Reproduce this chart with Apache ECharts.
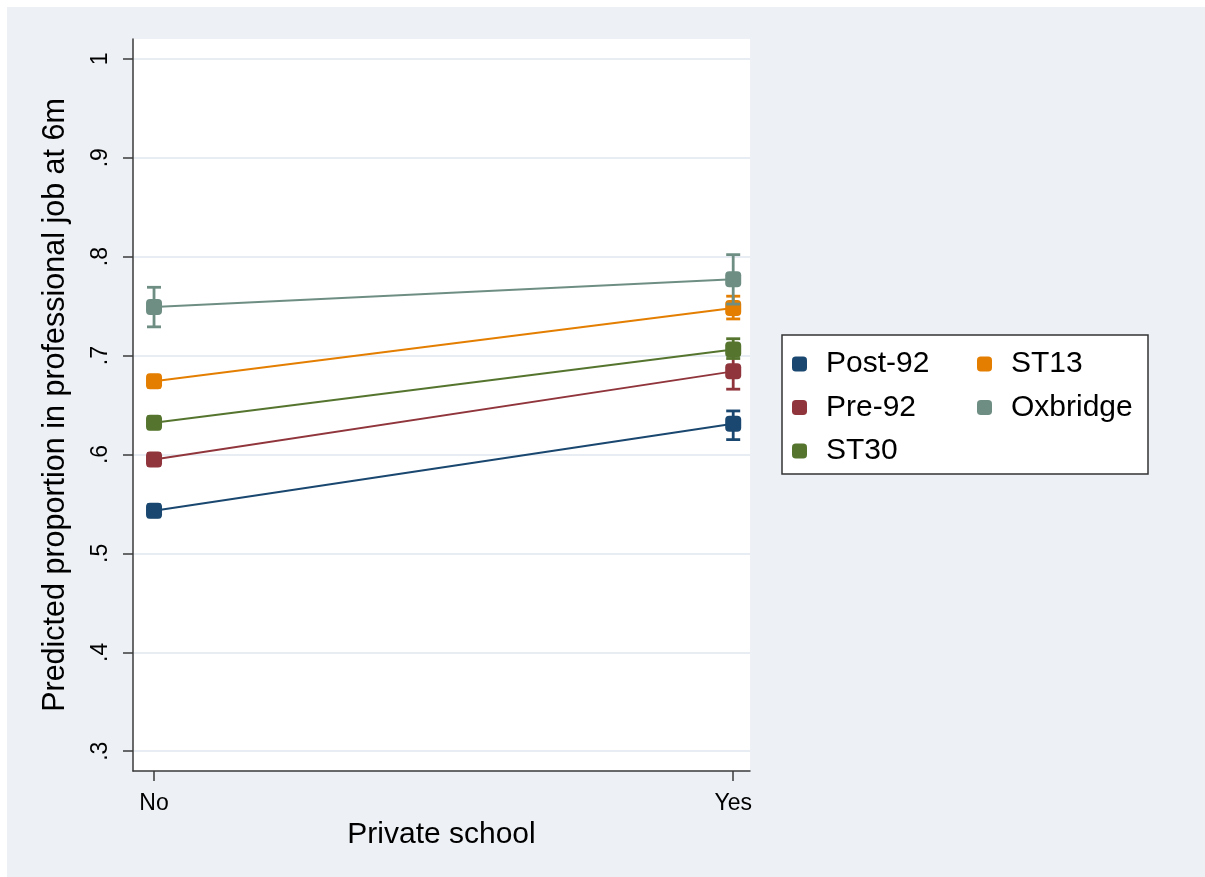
<!DOCTYPE html>
<html>
<head>
<meta charset="utf-8">
<title>Predicted proportion in professional job at 6m</title>
<script src="https://cdn.jsdelivr.net/npm/echarts@6/dist/echarts.min.js"></script>
<style>
  html, body { margin: 0; padding: 0; background: #ffffff; }
  #chart { position: absolute; left: 7px; top: 7px; width: 1198px; height: 870px; }
</style>
</head>
<body>
<div id="chart"></div>
<script>
// Categories on the x axis
const categories = ['No', 'Yes'];

// Y axis ticks
const yTickValues = [0.3, 0.4, 0.5, 0.6, 0.7, 0.8, 0.9, 1.0];
const yTickLabels = ['.3', '.4', '.5', '.6', '.7', '.8', '.9', '1'];

// Predicted proportions (No, Yes) with 95% confidence bounds
const post92   = [0.543, 0.631];
const post92Lo = [0.537, 0.615];
const post92Hi = [0.549, 0.644];

const pre92    = [0.595, 0.684];
const pre92Lo  = [0.589, 0.666];
const pre92Hi  = [0.601, 0.702];

const st30     = [0.632, 0.706];
const st30Lo   = [0.626, 0.697];
const st30Hi   = [0.638, 0.717];

const st13     = [0.674, 0.748];
const st13Lo   = [0.668, 0.737];
const st13Hi   = [0.680, 0.760];

const oxbridge   = [0.749, 0.777];
const oxbridgeLo = [0.729, 0.752];
const oxbridgeHi = [0.769, 0.802];

const groupNames  = ['Post-92', 'Pre-92', 'ST30', 'ST13', 'Oxbridge'];
const groupColors = ['#1A476F', '#90353B', '#55752F', '#E37E00', '#6E8E84'];
const groupValues = [post92, pre92, st30, st13, oxbridge];
const groupLo     = [post92Lo, pre92Lo, st30Lo, st13Lo, oxbridgeLo];
const groupHi     = [post92Hi, pre92Hi, st30Hi, st13Hi, oxbridgeHi];

const FONT = '"Liberation Sans", Arial, Helvetica, sans-serif';

function errorBarRenderer(color) {
  return function (params, api) {
    const x = api.value(0);
    const top = api.coord([x, api.value(2)]);
    const bot = api.coord([x, api.value(1)]);
    const half = 7;
    const style = { stroke: color, lineWidth: 2.8 };
    return {
      type: 'group',
      children: [
        { type: 'line', shape: { x1: top[0], y1: top[1], x2: bot[0], y2: bot[1] }, style },
        { type: 'line', shape: { x1: top[0] - half, y1: top[1], x2: top[0] + half, y2: top[1] }, style },
        { type: 'line', shape: { x1: bot[0] - half, y1: bot[1], x2: bot[0] + half, y2: bot[1] }, style }
      ]
    };
  };
}

const series = [];
groupNames.forEach(function (name, i) {
  const color = groupColors[i];
  series.push({
    name: name,
    type: 'custom',
    renderItem: errorBarRenderer(color),
    itemStyle: { color: color },
    encode: { x: 0, y: [1, 2] },
    data: categories.map(function (c, j) { return [j, groupLo[i][j], groupHi[i][j]]; }),
    z: 2 + i * 2
  });
  series.push({
    name: name,
    type: 'line',
    data: categories.map(function (c, j) { return [j, groupValues[i][j]]; }),
    symbol: 'roundRect',
    symbolSize: 16,
    itemStyle: { color: color },
    lineStyle: { color: color, width: 2 },
    emphasis: { disabled: true },
    animation: false,
    z: 3 + i * 2
  });
});

const legendText = {
  fontFamily: FONT,
  fontSize: 30,
  lineHeight: 30,
  color: '#000000',
  padding: [0, 0, 0, 14]
};

const option = {
  backgroundColor: '#EDF1F6',
  animation: false,
  grid: {
    left: 126,
    top: 32,
    width: 617,
    height: 732,
    show: true,
    backgroundColor: '#ffffff',
    borderWidth: 0
  },
  xAxis: {
    type: 'value',
    min: -0.0363,
    max: 1.029,
    name: 'Private school',
    nameLocation: 'middle',
    nameGap: 33,
    nameTextStyle: { fontFamily: FONT, fontSize: 30, color: '#000000' },
    axisLine: { show: true, onZero: false, lineStyle: { color: '#3a3a3a', width: 1.5 } },
    axisTick: { show: true, length: 10, customValues: [0, 1], lineStyle: { color: '#3a3a3a', width: 1.5 } },
    axisLabel: {
      customValues: [0, 1],
      margin: 21,
      fontFamily: FONT,
      fontSize: 23,
      color: '#000000',
      formatter: function (v) { return categories[Math.round(v)]; }
    },
    splitLine: { show: false }
  },
  yAxis: {
    type: 'value',
    min: 0.28,
    max: 1.02,
    name: 'Predicted proportion in professional job at 6m',
    nameLocation: 'middle',
    nameGap: 62,
    nameTextStyle: { fontFamily: FONT, fontSize: 30.5, color: '#000000' },
    axisLine: { show: true, onZero: false, lineStyle: { color: '#3a3a3a', width: 1.5 } },
    axisTick: { show: true, length: 10, customValues: yTickValues, lineStyle: { color: '#3a3a3a', width: 1.5 } },
    axisLabel: {
      customValues: yTickValues,
      rotate: 90,
      margin: 21,
      fontFamily: FONT,
      fontSize: 23,
      color: '#000000',
      formatter: function (v) {
        const k = yTickValues.findIndex(function (t) { return Math.abs(t - v) < 1e-6; });
        return k >= 0 ? yTickLabels[k] : '';
      }
    },
    splitLine: { show: true, lineStyle: { color: '#E8EDF3', width: 2 } }
  },
  legend: [
    {
      data: ['Post-92', 'Pre-92', 'ST30'],
      orient: 'vertical',
      left: 785,
      top: 342,
      padding: 0,
      itemGap: 13.5,
      itemWidth: 15,
      itemHeight: 15,
      icon: 'roundRect',
      selectedMode: false,
      textStyle: legendText
    },
    {
      data: ['ST13', 'Oxbridge'],
      orient: 'vertical',
      left: 970,
      top: 342,
      padding: 0,
      itemGap: 13.5,
      itemWidth: 15,
      itemHeight: 15,
      icon: 'roundRect',
      selectedMode: false,
      textStyle: legendText
    }
  ],
  graphic: [
    {
      type: 'rect',
      shape: { x: 775, y: 328, width: 366, height: 139 },
      style: { fill: '#ffffff', stroke: '#333333', lineWidth: 1.5 },
      z: -1
    }
  ],
  series: series
};

const chart = echarts.init(document.getElementById('chart'), null, { renderer: 'canvas' });
chart.setOption(option);
</script>
</body>
</html>
